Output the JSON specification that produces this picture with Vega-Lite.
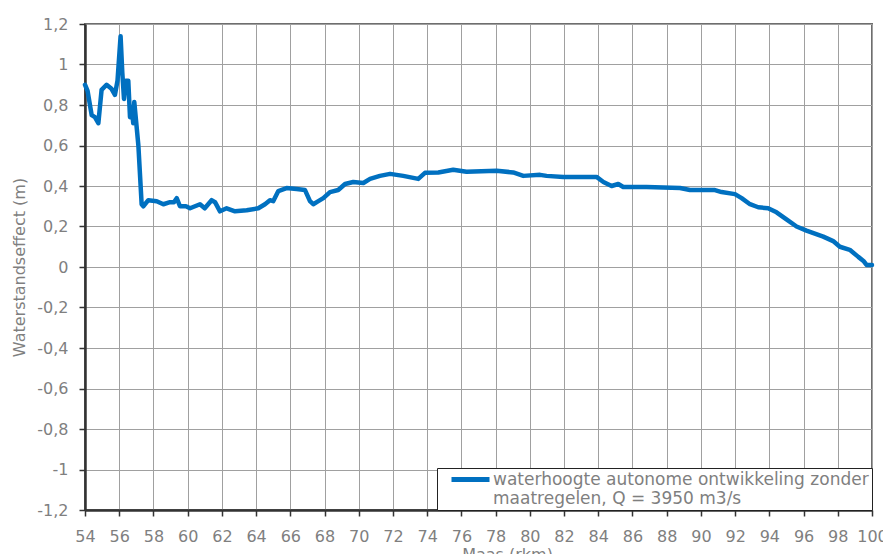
{
  "$schema": "https://vega.github.io/schema/vega-lite/v6.json",
  "width": 787,
  "height": 486,
  "autosize": {"type": "none"},
  "padding": {"left": 85, "top": 24, "right": 11, "bottom": 44},
  "background": "white",
  "data": {"values": [
    {"km": 54.0, "v": 0.90}, {"km": 54.15, "v": 0.87}, {"km": 54.39, "v": 0.75}, {"km": 54.58, "v": 0.74},
    {"km": 54.78, "v": 0.71}, {"km": 54.97, "v": 0.875}, {"km": 55.26, "v": 0.90}, {"km": 55.55, "v": 0.88},
    {"km": 55.75, "v": 0.85}, {"km": 55.9, "v": 0.92}, {"km": 56.08, "v": 1.14}, {"km": 56.18, "v": 0.96},
    {"km": 56.28, "v": 0.83}, {"km": 56.38, "v": 0.92}, {"km": 56.53, "v": 0.92}, {"km": 56.63, "v": 0.74},
    {"km": 56.73, "v": 0.79}, {"km": 56.82, "v": 0.71}, {"km": 56.88, "v": 0.815}, {"km": 57.02, "v": 0.69},
    {"km": 57.12, "v": 0.60}, {"km": 57.31, "v": 0.31}, {"km": 57.41, "v": 0.30}, {"km": 57.7, "v": 0.33},
    {"km": 58.19, "v": 0.325}, {"km": 58.58, "v": 0.31}, {"km": 58.97, "v": 0.32}, {"km": 59.2, "v": 0.32},
    {"km": 59.36, "v": 0.34}, {"km": 59.55, "v": 0.30}, {"km": 59.9, "v": 0.30}, {"km": 60.14, "v": 0.29},
    {"km": 60.72, "v": 0.31}, {"km": 61.0, "v": 0.29}, {"km": 61.4, "v": 0.33}, {"km": 61.6, "v": 0.32},
    {"km": 61.89, "v": 0.275}, {"km": 62.28, "v": 0.29}, {"km": 62.77, "v": 0.275}, {"km": 63.45, "v": 0.28},
    {"km": 64.13, "v": 0.29}, {"km": 64.52, "v": 0.31}, {"km": 64.81, "v": 0.33}, {"km": 65.0, "v": 0.325},
    {"km": 65.3, "v": 0.375}, {"km": 65.78, "v": 0.39}, {"km": 66.37, "v": 0.385}, {"km": 66.86, "v": 0.38},
    {"km": 67.15, "v": 0.325}, {"km": 67.34, "v": 0.31}, {"km": 67.64, "v": 0.325}, {"km": 67.93, "v": 0.34},
    {"km": 68.32, "v": 0.37}, {"km": 68.8, "v": 0.38}, {"km": 69.2, "v": 0.41}, {"km": 69.68, "v": 0.42},
    {"km": 70.27, "v": 0.415}, {"km": 70.66, "v": 0.435}, {"km": 71.24, "v": 0.45}, {"km": 71.83, "v": 0.46},
    {"km": 72.6, "v": 0.45}, {"km": 73.48, "v": 0.435}, {"km": 73.87, "v": 0.465}, {"km": 74.65, "v": 0.467},
    {"km": 75.52, "v": 0.48}, {"km": 76.3, "v": 0.47}, {"km": 78.06, "v": 0.475}, {"km": 79.03, "v": 0.467},
    {"km": 79.62, "v": 0.45}, {"km": 80.6, "v": 0.455}, {"km": 80.98, "v": 0.45}, {"km": 81.96, "v": 0.445},
    {"km": 83.9, "v": 0.445}, {"km": 84.3, "v": 0.42}, {"km": 84.78, "v": 0.40}, {"km": 85.17, "v": 0.41},
    {"km": 85.46, "v": 0.395}, {"km": 86.82, "v": 0.395}, {"km": 88.78, "v": 0.39}, {"km": 89.36, "v": 0.38},
    {"km": 90.82, "v": 0.38}, {"km": 91.21, "v": 0.37}, {"km": 91.99, "v": 0.36}, {"km": 92.38, "v": 0.34},
    {"km": 92.87, "v": 0.31}, {"km": 93.35, "v": 0.295}, {"km": 93.93, "v": 0.29}, {"km": 94.42, "v": 0.27},
    {"km": 95.0, "v": 0.235}, {"km": 95.59, "v": 0.20}, {"km": 96.17, "v": 0.18}, {"km": 97.15, "v": 0.15},
    {"km": 97.73, "v": 0.128}, {"km": 98.12, "v": 0.10}, {"km": 98.7, "v": 0.085}, {"km": 99.2, "v": 0.05},
    {"km": 99.5, "v": 0.03}, {"km": 99.68, "v": 0.01}, {"km": 100.0, "v": 0.01}
  ]},
  "mark": {"type": "line", "strokeWidth": 4.5, "strokeJoin": "round", "strokeCap": "round"},
  "encoding": {
    "x": {
      "field": "km", "type": "quantitative",
      "scale": {"domain": [54, 100], "nice": false, "zero": false},
      "axis": {
        "title": "Maas (rkm)",
        "values": [54,56,58,60,62,64,66,68,70,72,74,76,78,80,82,84,86,88,90,92,94,96,98,100],
        "format": "d",
        "labelOverlap": false,
        "labelFlush": false,
        "labelPadding": 12,
        "titlePadding": 2,
        "titleX": 422
      }
    },
    "y": {
      "field": "v", "type": "quantitative",
      "scale": {"domain": [-1.2, 1.2], "nice": false, "zero": false},
      "axis": {
        "title": "Waterstandseffect (m)",
        "values": [-1.2,-1,-0.8,-0.6,-0.4,-0.2,0,0.2,0.4,0.6,0.8,1,1.2],
        "labelExpr": "replace(replace(format(datum.value, '.1~f'), '.', ','), '\u2212', '-')",
        "labelOverlap": false,
        "labelFlush": false,
        "labelPadding": 11,
        "titlePadding": 9
      }
    },
    "color": {
      "field": "serie", "type": "nominal",
      "scale": {"range": ["#0070c0"]},
      "legend": {
        "title": null,
        "orient": "bottom-right",
        "offset": 0,
        "symbolType": "M-4.75,0L4.75,0",
        "symbolSize": 64,
        "symbolStrokeWidth": 5,
        "symbolOffset": 22,
        "labelFont": "DejaVu Sans",
        "labelFontSize": 17,
        "labelColor": "#7f7f7f",
        "labelLimit": 500,
        "labelOffset": 14,
        "labelBaseline": "alphabetic",
        "labelLineHeight": 18,
        "labelExpr": "['waterhoogte autonome ontwikkeling zonder', 'maatregelen, Q = 3950 m3/s']",
        "fillColor": "white",
        "strokeColor": "#222",
        "padding": 3,
        "encode": {"labels": {"update": {"dy": {"value": 5}}}}
      }
    }
  },
  "config": {
    "view": {"stroke": "#6e6e6e", "strokeWidth": 2},
    "axis": {
      "labelFont": "DejaVu Sans",
      "labelFontSize": 16,
      "labelColor": "#7f7f7f",
      "titleFont": "DejaVu Sans",
      "titleFontSize": 16,
      "titleFontWeight": "normal",
      "titleColor": "#7f7f7f",
      "gridColor": "#a0a0a0",
      "gridWidth": 1,
      "gridOpacity": 1,
      "domainColor": "#333",
      "domainWidth": 2.5,
      "tickColor": "#333",
      "tickWidth": 1.5,
      "tickSize": 6
    }
  }
}
